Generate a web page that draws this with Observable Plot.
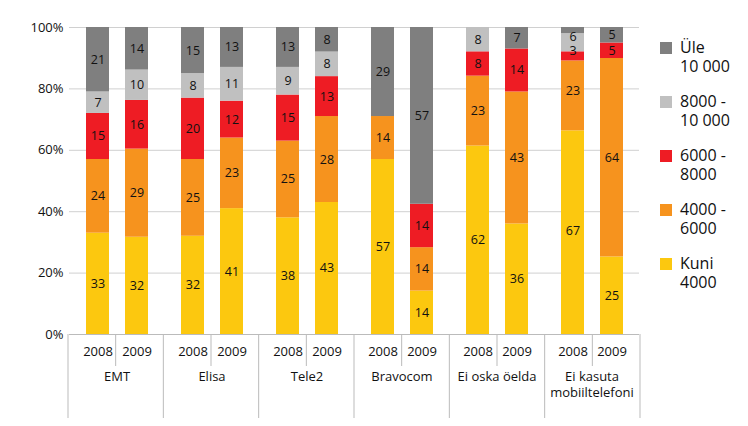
<!DOCTYPE html>
<html><head><meta charset="utf-8">
<script src="https://cdn.jsdelivr.net/npm/d3@7"></script>
<script src="https://cdn.jsdelivr.net/npm/@observablehq/plot@0.6"></script>
<style>
body{margin:0;background:#fff;font-family:"Open Sans",sans-serif}
#wrap{position:relative;width:748px;height:426px}
#legend{position:absolute;left:660px;top:38px;font-size:16px;color:#111;line-height:19px}
.it{display:flex;align-items:flex-start;margin-bottom:16px}
.sw{width:12px;height:12px;margin:4px 8px 0 0;flex:none}
</style></head><body>
<div id="wrap"><div id="chart"></div><div id="legend"></div></div>
<script>
const groups = ["EMT","Elisa","Tele2","Bravocom","Ei oska öelda","Ei kasuta\nmobiiltelefoni"];
const years = ["2008","2009"];
const cats = ["Kuni 4000","4000 - 6000","6000 - 8000","8000 - 10 000","Üle 10 000"];
const legendLabels = ["Üle\n10 000","8000 -\n10 000","6000 -\n8000","4000 -\n6000","Kuni\n4000"];
const colors = ["#fcc80f","#f6931e","#ee1c24","#c0c0c0","#7f7f7f"];
// values per group, per year, per category (Kuni4000 .. Üle10000)
const EMT = [[33,24,15,7,21],[32,29,16,10,14]];
const Elisa = [[32,25,20,8,15],[41,23,12,11,13]];
const Tele2 = [[38,25,15,9,13],[43,28,13,8,8]];
const Bravocom = [[57,14,0,0,29],[14,14,14,0,57]];
const EiOska = [[62,23,8,8,0],[36,43,14,0,7]];
const EiKasuta = [[67,23,3,6,2],[25,64,5,0,5]];
const values = [EMT,Elisa,Tele2,Bravocom,EiOska,EiKasuta];

const data = [];
groups.forEach((g,gi)=>years.forEach((y,yi)=>cats.forEach((c,ci)=>{
  data.push({group:g,year:y,cat:c,ci,v:values[gi][yi][ci]});
})));

const opts = {fx:"group",x:"year",y:"v",z:"cat",order:d=>d.ci,offset:"normalize"};
const chart = Plot.plot({
  width:650,height:426,marginLeft:68,marginRight:10,marginTop:27,marginBottom:92,
  style:{fontFamily:"Open Sans, sans-serif",fontSize:"13px",color:"#111"},
  fx:{domain:groups,padding:0,label:null},
  x:{domain:years,padding:0.42,label:null},
  y:{domain:[0,1],label:null},
  color:{domain:cats,range:colors},
  marks:[
    Plot.gridY({ticks:5,stroke:"#d0d0d0",strokeOpacity:1}),
    Plot.barY(data,Plot.stackY({...opts,fill:"cat"})),
    Plot.text(data.filter(d=>d.v>=3),Plot.stackY({...opts,text:"v",fill:"#111",fontSize:12.5})),
    Plot.axisY({ticks:5,tickFormat:d3.format(".0%"),tickSize:0,tickPadding:6,fontSize:13}),
    Plot.axisX({tickSize:0,tickPadding:12,fontSize:13}),
    Plot.axisFx({anchor:"bottom",tickSize:0,tickPadding:34,fontSize:13,lineHeight:1.3}),
    Plot.ruleY([0],{stroke:"#bbb"})
  ]
});
document.getElementById("chart").appendChild(chart);
// separators
const svg = d3.select(chart);
const fx0 = 68, bw = (650-68-10)/6;
for(let i=0;i<=6;i++){
  svg.append("line").attr("x1",fx0+i*bw).attr("x2",fx0+i*bw).attr("y1",334).attr("y2",418).attr("stroke","#bbb");
  if(i<6) svg.append("line").attr("x1",fx0+i*bw+bw/2).attr("x2",fx0+i*bw+bw/2).attr("y1",334).attr("y2",366).attr("stroke","#bbb");
}
const lg = document.getElementById("legend");
legendLabels.forEach((l,i)=>{
  const d=document.createElement("div");d.className="it";
  d.innerHTML=`<div class="sw" style="background:${colors[4-i]}"></div><div style="white-space:pre">${l}</div>`;
  lg.appendChild(d);
});
</script></body></html>
